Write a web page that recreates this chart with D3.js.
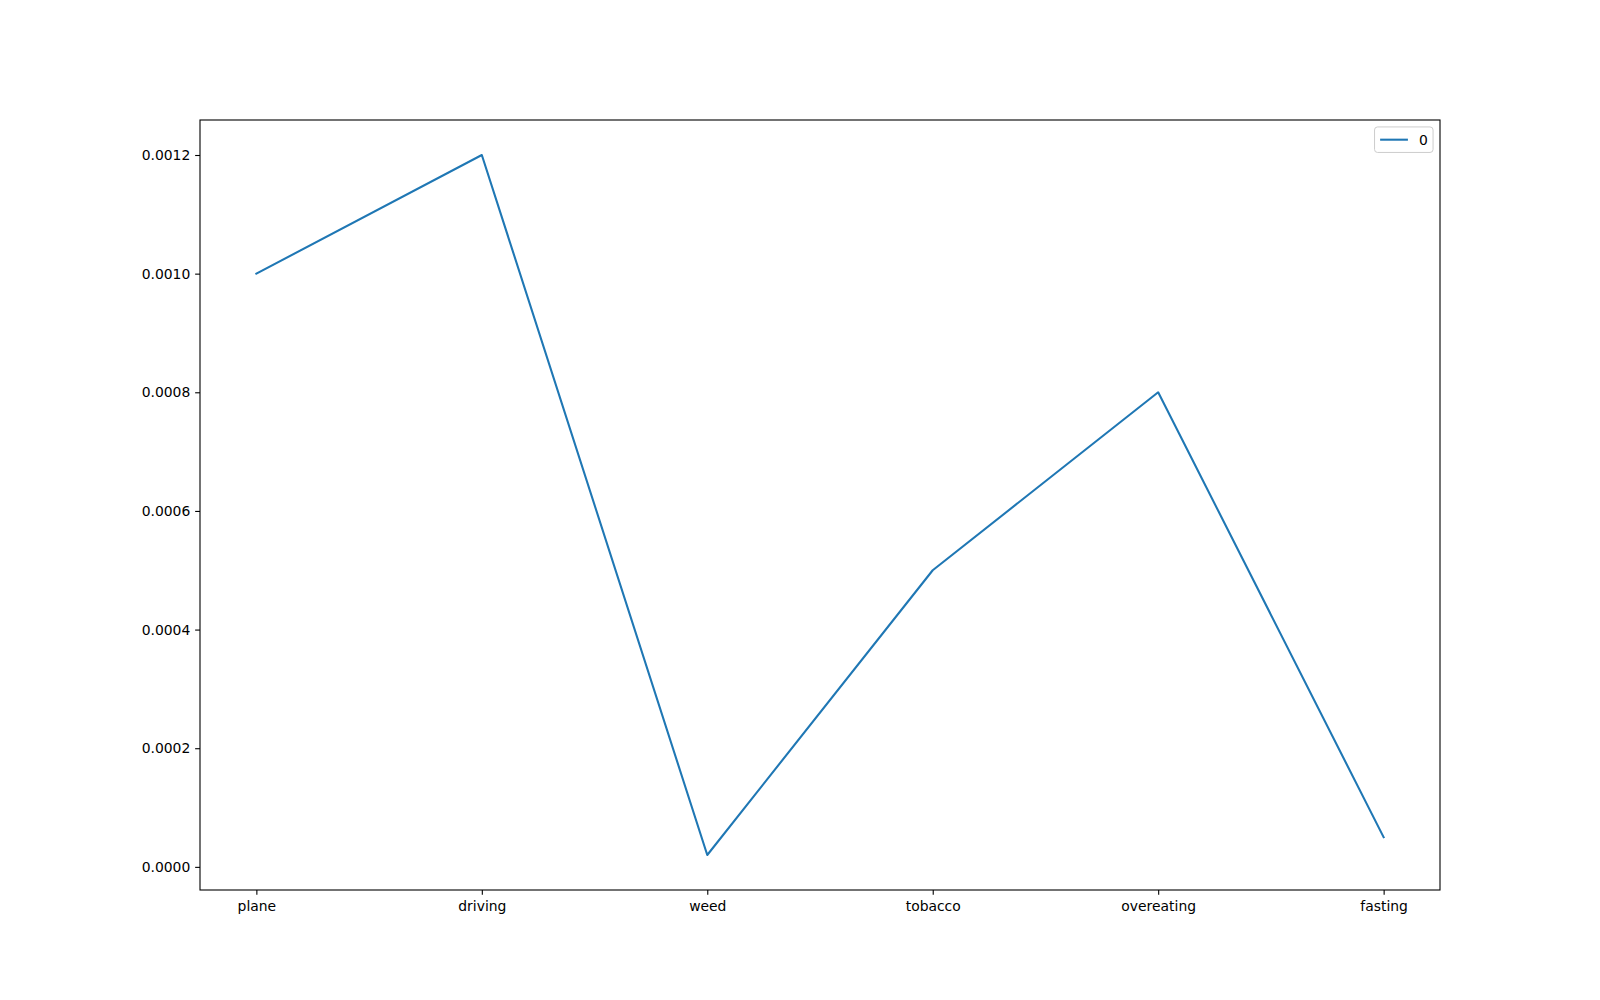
<!DOCTYPE html>
<html><head><meta charset="utf-8">
<script src="https://cdn.jsdelivr.net/npm/d3@7"></script>
<style>body{margin:0;background:#fff}svg{display:block}text{font-family:"DejaVu Sans",sans-serif}</style>
</head><body>
<script>
const categories = ["plane","driving","weed","tobacco","overeating","fasting"];
const values = [0.0010, 0.0012, 0.00002, 0.0005, 0.0008, 0.00005];
const yTicks = [0, 0.0002, 0.0004, 0.0006, 0.0008, 0.0010, 0.0012];
const seriesName = "0";

const W=1600,H=1000, L=200,R=1440,T=120,B=890;
const fs=13.9;
const svg=d3.select("body").append("svg").attr("width",W).attr("height",H);
const n=categories.length;
const x=d3.scaleLinear().domain([-0.05*(n-1),(n-1)*1.05]).range([L,R]);
const ymin=d3.min(values), ymax=d3.max(values), pad=(ymax-ymin)*0.05;
const y=d3.scaleLinear().domain([ymin-pad,ymax+pad]).range([B,T]);

const line=d3.line().x((d,i)=>x(i)).y(d=>y(d));
svg.append("path").datum(values).attr("d",line).attr("fill","none")
  .attr("stroke","#1f77b4").attr("stroke-width",2.08).attr("stroke-linejoin","round").attr("stroke-linecap","square");

const xa=svg.append("g").attr("transform",`translate(0,${B})`)
  .call(d3.axisBottom(x).tickValues(d3.range(n)).tickFormat(i=>categories[i]).tickSize(4.86).tickPadding(4.86));
const ya=svg.append("g").attr("transform",`translate(${L},0)`)
  .call(d3.axisLeft(y).tickValues(yTicks).tickFormat(d3.format(".4f")).tickSize(4.86).tickPadding(4.86));
[xa,ya].forEach(a=>{a.select(".domain").remove();a.selectAll("text").attr("font-size",fs).attr("fill","#000").attr("font-family","DejaVu Sans");a.selectAll("line").attr("stroke","#000").attr("stroke-width",1.1);});
xa.selectAll("text").attr("dy","0.78em");

svg.append("rect").attr("x",L).attr("y",T).attr("width",R-L).attr("height",B-T)
  .attr("fill","none").attr("stroke","#000").attr("stroke-width",1.1);

// legend
const lw=58.5, lh=25.5, lx=R-6.94-lw, ly=T+6.94;
svg.append("rect").attr("x",lx).attr("y",ly).attr("width",lw).attr("height",lh).attr("rx",3)
  .attr("fill","#fff").attr("fill-opacity",0.8).attr("stroke","#cccccc").attr("stroke-width",1);
svg.append("line").attr("x1",lx+5.56).attr("x2",lx+5.56+27.8).attr("y1",ly+lh/2).attr("y2",ly+lh/2)
  .attr("stroke","#1f77b4").attr("stroke-width",2.08);
svg.append("text").attr("x",lx+5.56+27.8+11.1).attr("y",ly+lh/2).attr("dy","0.35em")
  .attr("font-size",fs).text(seriesName);
</script>
</body></html>
